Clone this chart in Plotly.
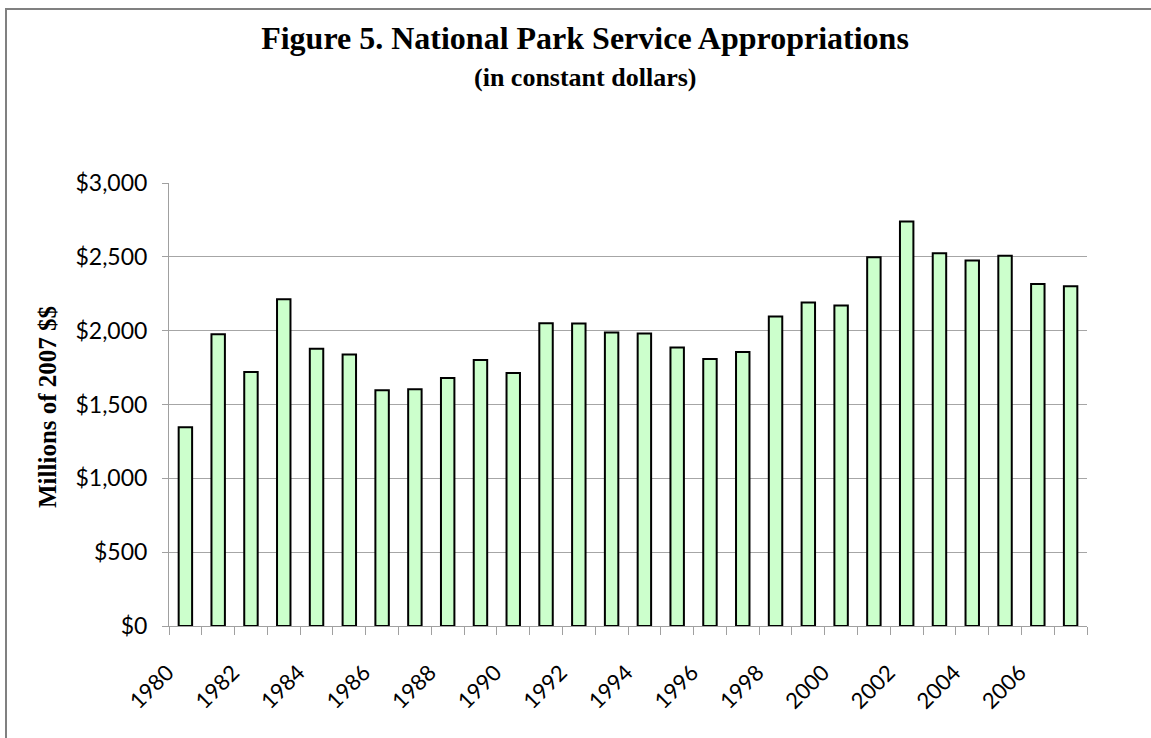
import plotly.graph_objects as go

years = list(range(1980, 2008))
values = [1346, 1976, 1720, 2213, 1877, 1839, 1596, 1603, 1679, 1801, 1713,
          2051, 2049, 1988, 1981, 1886, 1808, 1855, 2096, 2190, 2170, 2497,
          2740, 2524, 2476, 2508, 2316, 2301]
label_years = [y for y in years if y % 2 == 0]
y_ticks = [0, 500, 1000, 1500, 2000, 2500, 3000]
y_labels = ["$0", "$500", "$1,000", "$1,500", "$2,000", "$2,500", "$3,000"]

boundaries = [y - 0.5 for y in years] + [years[-1] + 0.5]

W, H = 1151, 738
ML, MR, MT, MB = 169, 64, 183, 112
PW, PH = W - ML - MR, H - MT - MB

def px(xp):
    return (xp - ML) / PW

def py(yp):
    return (H - MB - yp) / PH

fig = go.Figure()
fig.add_trace(go.Bar(
    x=years, y=values,
    width=0.41,
    marker=dict(color="#CCFFCC", line=dict(color="#000000", width=2)),
    hoverinfo="x+y",
))

serif = "Liberation Serif, Times New Roman, serif"
sans = "Lato, Open Sans, sans-serif"

fig.update_layout(
    width=W, height=H,
    margin=dict(l=ML, r=MR, t=MT, b=MB),
    paper_bgcolor="#FFFFFF", plot_bgcolor="#FFFFFF",
    showlegend=False,
    title=dict(
        text="Figure 5. National Park Service Appropriations",
        x=585 / W, xanchor="center",
        y=1 - 38 / H, yanchor="middle",
        font=dict(family=serif, size=32, color="#000000", weight="bold"),
    ),
    xaxis=dict(
        range=[1979.5, 2007.5],
        tickmode="array", tickvals=label_years, ticktext=[str(y) for y in label_years],
        tickangle=-45, tickfont=dict(family=sans, size=22, color="#000000"),
        ticklabelstandoff=24, ticklabelshift=-18,
        ticks="", showgrid=False, zeroline=False,
        showline=True, linecolor="#A0A0A0", linewidth=1,
        minor=dict(tickmode="array", tickvals=boundaries, ticks="outside",
                   ticklen=8, tickcolor="#A0A0A0", tickwidth=1, showgrid=False),
    ),
    yaxis=dict(
        range=[0, 3000],
        tickmode="array", tickvals=y_ticks, ticktext=y_labels,
        tickfont=dict(family=sans, size=23, color="#000000"),
        ticklabelstandoff=10,
        ticks="outside", ticklen=6, tickcolor="#A0A0A0", tickwidth=1,
        showgrid=True, gridcolor="#A6A6A6", gridwidth=1,
        zeroline=False, showline=True, linecolor="#A0A0A0", linewidth=1,
    ),
)

fig.add_annotation(
    text="<b>(in constant dollars)</b>",
    xref="paper", yref="paper", x=px(585), y=py(77),
    xanchor="center", yanchor="middle", showarrow=False,
    font=dict(family=serif, size=26, color="#000000"),
)
fig.add_annotation(
    text="<b>Millions of 2007 $$</b>",
    xref="paper", yref="paper", x=px(47), y=py(407),
    xanchor="center", yanchor="middle", showarrow=False, textangle=-90,
    font=dict(family=serif, size=25, color="#000000"),
)
fig.add_shape(
    type="rect", xref="paper", yref="paper",
    x0=px(6), x1=px(1170), y0=py(9), y1=py(760),
    line=dict(color="#808080", width=2), fillcolor="rgba(0,0,0,0)", layer="below",
)

fig.write_html("out.html")
